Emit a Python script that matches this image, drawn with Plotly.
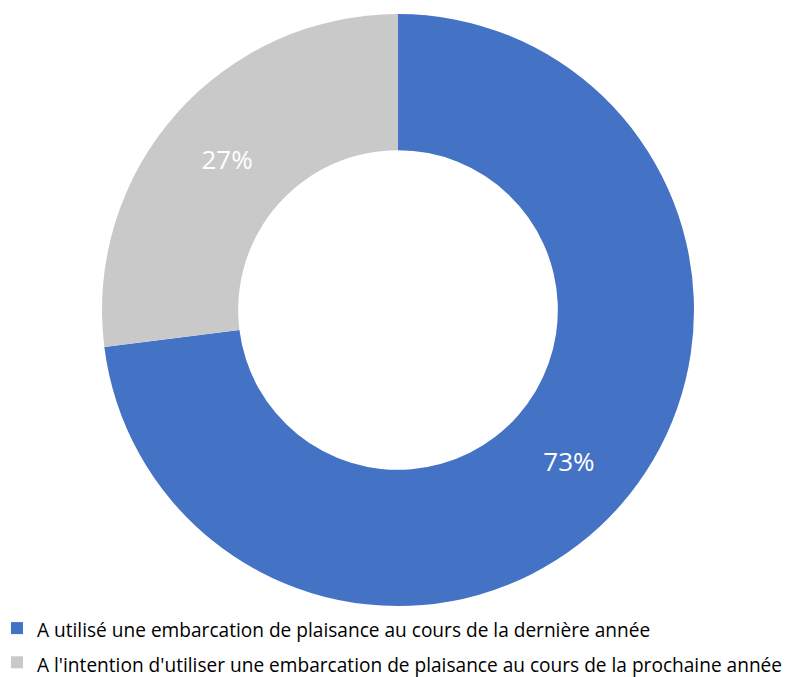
import plotly.graph_objects as go

labels = [
    "A utilisé une embarcation de plaisance au cours de la dernière année",
    "A l'intention d'utiliser une embarcation de plaisance au cours de la prochaine année",
]
values = [73, 27]
colors = ["#4472C4", "#C9C9C9"]

# the page body adds an 8px margin, so the figure is drawn 8px smaller
W, H = 790, 669

# smaller text inside a larger legend font to get the wider row spacing
legend_labels = ["<span style='font-size:19.1px'>" + t + "</span>" for t in labels]

fig = go.Figure(
    go.Pie(
        labels=legend_labels,
        values=values,
        hole=0.54,
        sort=False,
        direction="clockwise",
        rotation=0,
        domain=dict(x=[0, 780 / 790], y=[0, 1]),
        marker=dict(colors=colors, line=dict(width=0)),
        textinfo="percent",
        textposition="inside",
        insidetextorientation="horizontal",
        textfont=dict(color="white", size=26, family="Open Sans"),
        hoverinfo="label+percent",
    )
)

fig.update_layout(
    width=W,
    height=H,
    margin=dict(l=0, r=0, t=6, b=71, autoexpand=False),
    paper_bgcolor="white",
    plot_bgcolor="white",
    showlegend=True,
    legend=dict(
        x=-11 / 790,
        xanchor="left",
        y=0,
        yanchor="top",
        font=dict(size=24, family="Open Sans", color="#000000"),
        itemwidth=30,
    ),
)

fig.write_html("out.html")
